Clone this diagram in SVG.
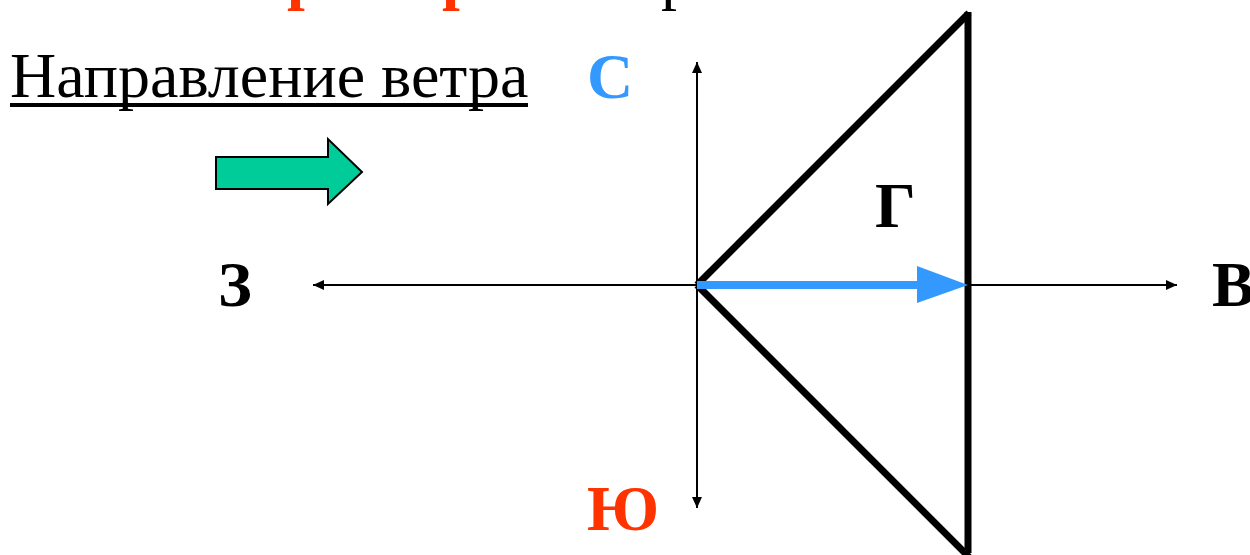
<svg xmlns="http://www.w3.org/2000/svg" width="1250" height="555" viewBox="0 0 1250 555">
<style>
.t{font-family:"Liberation Serif","Times New Roman",serif;font-size:64px}
.b{font-weight:bold}
.ax{stroke:#000;stroke-width:2;fill:none}
.tri{stroke:#000;stroke-width:7;fill:none;stroke-linecap:butt}
</style>
<defs>
<marker id="ah" markerWidth="12" markerHeight="10" refX="11" refY="5" orient="auto" markerUnits="userSpaceOnUse">
<path d="M0,0 L11,5 L0,10 Z" fill="#000"/>
</marker>
</defs>
<g id="title-cut">
<text class="t b" x="287" y="-3" font-size="56" fill="#FF3300">р</text>
<text class="t b" x="442" y="-3" font-size="56" fill="#FF3300">р</text>
<text class="t" x="661" y="-3" font-size="56" fill="#000">р</text>
</g>
<g id="wind-label">
<text class="t" x="10" y="97">Направление ветра</text>
<rect x="10" y="103" width="518" height="4" fill="#000"/>
</g>
<g id="wind-arrow">
<path d="M216,157 H328 V139 L362,172 L328,204 V189 H216 Z" fill="#00CC99" stroke="#000" stroke-width="2" stroke-linejoin="miter"/>
</g>
<g id="connectors">
<line class="ax" x1="697" y1="285" x2="697" y2="62" marker-end="url(#ah)"/>
<line class="ax" x1="697" y1="285" x2="697" y2="508" marker-end="url(#ah)"/>
<line class="ax" x1="697" y1="285" x2="313" y2="285" marker-end="url(#ah)"/>
<line class="ax" x1="697" y1="285" x2="1177" y2="285" marker-end="url(#ah)"/>
</g>
<g id="triangle">
<line class="tri" x1="697" y1="285" x2="969" y2="13"/>
<line class="tri" x1="697" y1="285" x2="969" y2="557"/>
<line class="tri" x1="968" y1="12" x2="968" y2="553"/>
</g>
<g id="vector">
<line x1="697" y1="285" x2="920" y2="285" stroke="#3399FF" stroke-width="8"/>
<path d="M917,266 L968,285 L917,303 Z" fill="#3399FF"/>
</g>
<g id="label-N"><text class="t b" x="587" y="98" fill="#3399FF">С</text></g>
<g id="label-S"><text class="t b" x="587" y="530" fill="#FF3300">Ю</text></g>
<g id="label-W"><text class="t b" x="218" y="306" fill="#000">З</text></g>
<g id="label-E"><text class="t b" x="1212" y="306" fill="#000">В</text></g>
<g id="label-G"><text class="t b" x="875" y="227" fill="#000">Г</text></g>
</svg>
